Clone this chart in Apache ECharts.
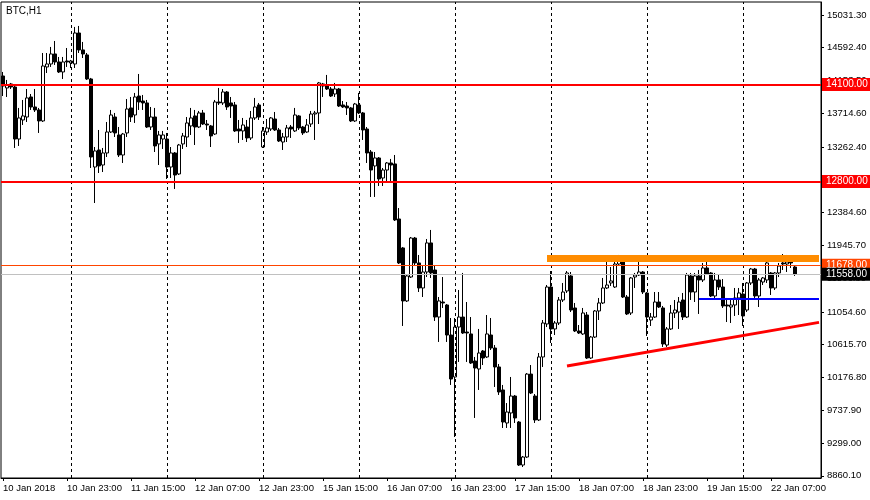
<!DOCTYPE html>
<html><head><meta charset="utf-8">
<script src="https://cdn.jsdelivr.net/npm/echarts@6/dist/echarts.min.js"></script>
<style>html,body{margin:0;padding:0;background:#fff}#c{width:870px;height:500px}</style>
</head><body><div id="c"></div>
<script>
// ---- categories (H1 bars, broker skips weekend) ----
const tradingDays = ['10 Jan','11 Jan','12 Jan','15 Jan','16 Jan','17 Jan','18 Jan','19 Jan','22 Jan'];
const firstHour = 7;
const totalSlots = 205; // 199 bars + right shift space
const categories = [];
tradingDays.forEach((d, k) => {
  for (let h = (k === 0 ? firstHour : 0); h < 24 && categories.length < totalSlots; h++) {
    categories.push(d + ' ' + String(h).padStart(2, '0') + ':00');
  }
});

// ---- OHLC values ----
const open = [
14214,14054,14107,14067,13370,13625,13665,13933,13799,13759,
13612,14335,14375,14509,14402,14268,14415,14388,14375,14790,
14563,14496,14174,12995,13223,13022,13183,13464,13665,13424,
13156,13451,13786,13692,13946,13879,13853,13531,13665,13304,
13370,13370,12995,13183,12902,13304,13397,13545,13679,13531,
13719,13571,13545,13437,13866,13853,14000,13853,13826,13504,
13478,13531,13384,13652,13826,13263,13464,13504,13638,13491,
13330,13397,13531,13478,13679,13531,13464,13571,13705,13719,
14107,14094,14040,13973,14040,13826,13812,13786,13612,13826,
13719,13504,13196,13009,13116,12848,12955,13049,13036,12299,
11911,11201,11522,12044,11710,11375,11589,11978,11616,10986,
11187,11147,10745,10183,10852,10986,10785,10759,10397,10290,
10531,10451,10745,10571,10317,10009,9567,9701,9928,9580,
9004,9111,10222,9928,9607,10451,10893,11388,10826,10906,
11214,11335,11536,11107,10799,10759,11013,10437,10718,11067,
11174,11375,11442,11388,11696,11750,11254,11040,11522,11549,
11589,11308,10946,10986,11187,11107,10611,10826,11040,11053,
11214,10986,11536,11321,11536,11482,11643,11576,11268,11482,
11388,11147,11120,11147,11241,11294,11080,11442,11629,11268,
11455,11482,11576,11375,11576,11710,11696,11763,11656
];
const close = [
14080,14094,14067,13370,13652,13679,13920,13799,13759,13612,
14348,14375,14509,14402,14268,14402,14402,14415,14790,14563,
14509,14174,13129,13210,13009,13183,13464,13692,13451,13156,
13437,13772,13665,13933,13866,13853,13531,13665,13277,13424,
13424,12995,13183,12888,13290,13411,13585,13652,13531,13719,
13571,13558,13411,13866,13853,14000,13799,13812,13478,13478,
13558,13384,13652,13799,13665,13478,13518,13652,13491,13344,
13397,13518,13504,13692,13518,13451,13558,13705,13719,14121,
14080,14040,13946,14040,13812,13799,13786,13612,13839,13719,
13491,13183,12955,13116,12835,12955,13049,13022,12286,11710,
11201,11536,12044,11710,11375,11589,11978,11576,10986,11201,
11174,10745,10156,10852,10986,10772,10772,10370,10303,10504,
10437,10759,10571,10317,9982,9580,9714,9928,9634,9004,
9111,10222,9968,9607,10451,10906,11388,10826,10906,11214,
11321,11576,11080,10799,10772,11040,10437,10718,11067,11174,
11375,11415,11469,11696,11750,11254,11027,11509,11549,11589,
11321,10986,10986,11187,11120,10625,10826,11040,11080,11187,
10986,11549,11321,11536,11482,11643,11562,11268,11482,11388,
11134,11134,11147,11241,11308,11000,11442,11629,11268,11482,
11509,11710,11375,11576,11669,11696,11723,11710,11558
];
const low = [
13946,13933,14040,13250,13277,13558,13598,13759,13732,13451,
13598,14254,14335,14362,14254,14174,14335,14321,14321,14522,
14455,14161,12982,12513,12915,12928,13129,13451,13397,13129,
13049,13397,13598,13585,13759,13759,13518,13491,13196,13022,
13237,12835,12848,12701,12888,13237,13263,13424,13290,13518,
13558,13491,13263,13424,13826,13826,13759,13652,13464,13317,
13357,13330,13357,13625,13625,13250,13424,13478,13478,13330,
13223,13330,13384,13464,13491,13424,13451,13531,13357,13571,
13933,14027,13933,13933,13799,13786,13692,13598,13598,13705,
13357,13049,12594,12594,12741,12741,12781,12795,12272,11696,
10866,11187,11509,11669,11321,11254,11522,11509,10933,10652,
11107,10652,10076,9379,10384,10759,10384,10357,9634,10009,
10343,10437,10544,10049,9942,9500,9500,9500,9567,8991,
8977,9098,9955,9567,9593,10317,10852,10638,10745,10879,
11187,11308,11053,10785,10759,10745,10424,10424,10705,10946,
11160,11361,11402,11375,11683,11241,11013,11013,11375,11536,
11294,10732,10866,10973,11107,10585,10585,10812,10973,10826,
10946,10973,11214,11187,11027,11455,11549,11254,11214,11348,
11107,10919,10906,11000,11013,10866,11053,11415,11241,11120,
11415,11442,11281,11348,11522,11616,11589,11643,11536
];
const high = [
14268,14161,14121,14080,13786,13893,14040,13973,14040,13786,
14522,14522,14603,14683,14469,14469,14589,14429,14871,14884,
14670,14522,14188,13263,13491,13250,13598,13759,13719,13531,
13451,13906,13933,13987,14241,13960,13893,13799,13786,13478,
13478,13451,13263,13196,13304,13451,13665,13786,13759,13746,
13759,13625,13558,13893,14054,14040,14013,13933,13866,13625,
13652,13625,13746,13920,13853,13531,13638,13665,13732,13518,
13451,13558,13558,13786,13692,13545,13638,13746,13746,14134,
14121,14228,14067,14121,14054,13879,13866,13799,13853,13987,
13732,13531,13223,13196,13129,12982,13062,13103,13156,12446,
11924,11549,12058,12058,11817,11669,12031,12152,11683,11254,
11522,11160,10973,10973,11348,11576,11187,10986,10451,10826,
10544,11013,10973,10611,10357,10076,9834,10183,9942,9593,
9125,10236,10343,9955,10504,10946,11415,11602,10933,11254,
11442,11602,11589,11174,10879,11107,11053,10732,11080,11241,
11509,11790,11656,11736,11817,11763,11281,11522,11576,11723,
11602,11321,11040,11321,11321,11134,10852,11147,11214,11254,
11308,11576,11576,11576,11616,11710,11723,11589,11576,11549,
11495,11241,11214,11375,11375,11442,11455,11643,11643,11509,
11522,11723,11589,11589,11710,11830,11817,11777,11669
];

// ---- axis tick labels (price scale) ----
const yTicks = [15031.30,14592.40,14153.50,13714.60,13262.40,12823.50,12384.60,11945.70,11506.80,11054.60,10615.70,10176.80,9737.90,9299.00,8860.10];

// ---- drawn objects ----
const dayStarts = [17,41,65,89,113,137,161,185];
const resistanceZone = {from: 136, to: 204, price: 11770};
const blueLevel = {from: 174, to: 204, price: 11234};
const trendLine = {from: 141, fromPrice: 10330, to: 204, toPrice: 10914};
const redLevels = [14100, 12800];
const orangeLevel = 11678;
const bidPrice = 11558;

const font = 'Liberation Sans';
const candles = open.map((o, i) => [o, close[i], Math.min(low[i], o, close[i]), Math.max(high[i], o, close[i])]);

function boxLabel(bg, v) {
  return {show: true, position: 'end', distance: 1, formatter: v.toFixed(2),
    backgroundColor: bg, color: '#fff', padding: [2, 4, 1, 4],
    fontFamily: font, fontSize: 10, lineHeight: 10};
}

const chart = echarts.init(document.getElementById('c'), null, {renderer: 'canvas'});
chart.setOption({
  animation: false,
  backgroundColor: '#fff',
  title: {text: 'BTC,H1', left: 1, top: 1,
    textStyle: {fontFamily: font, fontSize: 10, fontWeight: 'normal', color: '#000'}},
  grid: {left: 1, right: 49, top: 2, bottom: 22, show: true, borderColor: '#000', borderWidth: 1, backgroundColor: '#fff'},
  xAxis: {
    type: 'category', data: categories, boundaryGap: true,
    axisLine: {lineStyle: {color: '#000', width: 1}},
    axisTick: {show: true, alignWithLabel: true, interval: (i) => i % 16 === 0, length: 3, lineStyle: {color: '#000'}},
    axisLabel: {interval: (i) => i % 16 === 0 && i < 199,
      formatter: (v, i) => i === 0 ? '10 Jan 2018' : v,
      align: 'left', margin: 5, color: '#000', fontFamily: font, fontSize: 9.5},
    splitLine: {show: false}
  },
  yAxis: {
    type: 'value', position: 'right', min: 8830, max: 15205, scale: true,
    axisLine: {show: true, lineStyle: {color: '#000'}},
    axisTick: {show: true, customValues: yTicks, length: 3, lineStyle: {color: '#000'}},
    axisLabel: {customValues: yTicks, formatter: (v) => v.toFixed(2), margin: 6, color: '#000', fontFamily: font, fontSize: 9.5},
    splitLine: {show: false}
  },
  series: [
    {
      type: 'line', data: [], z: 1, silent: true,
      markLine: {
        silent: true, symbol: ['none', 'none'], animation: false, label: {show: false},
        data: dayStarts.map(i => ({xAxis: i, lineStyle: {type: [3, 3], color: '#000', width: 1}})).concat([
          [{coord: [resistanceZone.from, resistanceZone.price], lineStyle: {color: '#FF8C00', width: 7, type: 'solid'}},
           {coord: [resistanceZone.to, resistanceZone.price]}]
        ])
      }
    },
    {
      type: 'candlestick', data: candles, z: 2, barWidth: 3,
      itemStyle: {color: '#fff', color0: '#000', borderColor: '#000', borderColor0: '#000', borderWidth: 1}
    },
    {
      type: 'line', data: [], z: 3, silent: true,
      markLine: {
        silent: true, symbol: ['none', 'none'], animation: false,
        data: [
          {yAxis: orangeLevel, lineStyle: {color: '#FF4500', width: 1, type: 'solid'}, label: boxLabel('#FF4500', orangeLevel)},
          ...redLevels.map(v => ({yAxis: v, lineStyle: {color: '#FF0000', width: 2, type: 'solid'}, label: boxLabel('#FF0000', v)})),
          [{coord: [blueLevel.from, blueLevel.price], lineStyle: {color: '#0000FF', width: 2, type: 'solid'}, label: {show: false}},
           {coord: [blueLevel.to, blueLevel.price]}],
          [{coord: [trendLine.from, trendLine.fromPrice], lineStyle: {color: '#FF0000', width: 3, type: 'solid'}, label: {show: false}},
           {coord: [trendLine.to, trendLine.toPrice]}],
          {yAxis: bidPrice, lineStyle: {color: '#C0C0C0', width: 1, type: 'solid'}, label: boxLabel('#000', bidPrice)}
        ]
      }
    }
  ]
});
</script></body></html>
